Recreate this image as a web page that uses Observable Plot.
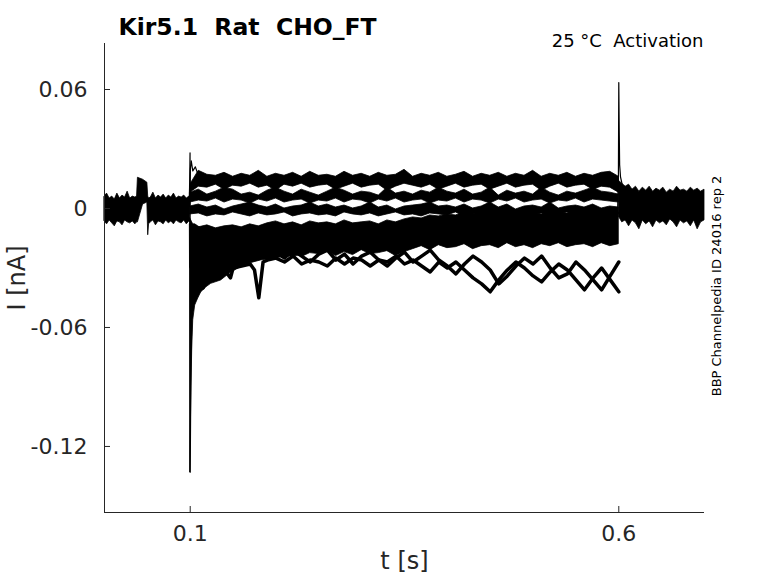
<!DOCTYPE html>
<html><head><meta charset="utf-8">
<script src="https://cdn.jsdelivr.net/npm/d3@7"></script>
<script src="https://cdn.jsdelivr.net/npm/@observablehq/plot@0.6"></script>
<style>
body{margin:0;background:#fff;}
svg text{white-space:pre;}
</style></head><body><div id="chart"></div>
<script>
const title = "Kir5.1  Rat  CHO_FT";
const subtitle = "25 °C  Activation";
const sideNote = "BBP Channelpedia ID 24016 rep 2";
const xLabel = "t [s]";
const yLabel = "I [nA]";
const xDomain = [0, 0.7];
const yDomain = [-0.1533, 0.0832];
const xTicks = [0.1, 0.6];
const xTickLabels = ["0.1", "0.6"];
const yTicks = [0.06, 0, -0.06, -0.12];
const yTickLabels = ["0.06", "0", "-0.06", "-0.12"];

// holding period before the step (noise envelope)
const tPre = [0,0.003,0.006,0.009,0.012,0.015,0.018,0.021,0.024,0.027,0.030,0.033,0.036,0.038,0.039,0.045,0.050,0.051,0.052,0.054,0.057,0.060,0.063,0.066,0.069,0.072,0.075,0.078,0.081,0.084,0.087,0.090,0.093,0.096,0.099,0.100];
const preHi = [0.006,0.0075,0.005,0.006,0.0045,0.0075,0.005,0.0065,0.0055,0.0085,0.005,0.006,0.0055,0.006,0.0155,0.0145,0.013,0.006,0.005,0.0055,0.008,0.005,0.0065,0.0055,0.007,0.005,0.0065,0.0055,0.0075,0.005,0.006,0.0055,0.0065,0.005,0.006,0.006];
const preLo = [-0.0065,-0.008,-0.006,-0.0075,-0.009,-0.0065,-0.007,-0.0085,-0.006,-0.007,-0.0075,-0.0065,-0.008,-0.007,-0.007,0.002,0.003,-0.0135,-0.008,-0.007,-0.006,-0.0085,-0.0065,-0.007,-0.008,-0.006,-0.0075,-0.0065,-0.008,-0.006,-0.007,-0.0075,-0.006,-0.008,-0.0065,-0.007];

// step period: noise envelopes of the trace groups
const tTest = [0.10,0.11,0.12,0.13,0.14,0.15,0.16,0.17,0.18,0.19,0.20,0.21,0.22,0.23,0.24,0.25,0.26,0.27,0.28,0.29,0.30,0.31,0.32,0.33,0.34,0.35,0.36,0.37,0.38,0.39,0.40,0.41,0.42,0.43,0.44,0.45,0.46,0.47,0.48,0.49,0.50,0.51,0.52,0.53,0.54,0.55,0.56,0.57,0.58,0.59,0.60];
const aHi = [0.012,0.019,0.017,0.0165,0.018,0.016,0.0175,0.0165,0.019,0.016,0.0175,0.0165,0.018,0.016,0.0185,0.0165,0.017,0.016,0.0185,0.0165,0.0175,0.016,0.018,0.0165,0.017,0.0195,0.016,0.0175,0.0165,0.018,0.016,0.017,0.0185,0.016,0.0175,0.0165,0.018,0.016,0.0175,0.0165,0.019,0.016,0.0175,0.0165,0.018,0.016,0.0175,0.0165,0.018,0.0185,0.016];
const aLo = [0.008,0.011,0.0105,0.012,0.0095,0.0115,0.011,0.0125,0.0105,0.0115,0.009,0.012,0.011,0.0125,0.0105,0.0115,0.012,0.0095,0.011,0.0125,0.0105,0.0115,0.012,0.009,0.011,0.0125,0.0115,0.0105,0.012,0.0095,0.011,0.0125,0.0105,0.0115,0.012,0.0095,0.011,0.0125,0.0105,0.0115,0.012,0.009,0.011,0.0125,0.0105,0.0115,0.012,0.0095,0.011,0.0105,0.008];
const bHi = [0.008,0.0095,0.007,0.0085,0.0105,0.0095,0.007,0.008,0.0065,0.009,0.0105,0.0085,0.007,0.0095,0.008,0.0065,0.0085,0.0105,0.009,0.007,0.0085,0.008,0.0065,0.0105,0.0075,0.0085,0.007,0.009,0.008,0.0105,0.0085,0.0075,0.0095,0.007,0.008,0.0105,0.0065,0.009,0.0075,0.0085,0.007,0.0105,0.008,0.0065,0.0085,0.0075,0.009,0.0105,0.0085,0.008,0.007];
const bLo = [0.003,0.004,0.0035,0.005,0.003,0.0045,0.004,0.0025,0.0045,0.0035,0.005,0.003,0.004,0.0045,0.0025,0.004,0.0035,0.005,0.003,0.0045,0.004,0.0025,0.0045,0.0035,0.005,0.003,0.004,0.0045,0.0025,0.004,0.0035,0.005,0.003,0.0045,0.004,0.0025,0.0045,0.0035,0.005,0.003,0.004,0.0045,0.0025,0.004,0.0035,0.005,0.003,0.0045,0.004,0.0035,0.003];
const cHi = [0.001,0.002,0.0005,0.0015,-0.0005,0.001,0.002,0.003,0.0015,0.0005,0.002,0,0.001,0.0015,0.003,0.001,0.002,0.0005,0.0015,0,0.001,0.003,0.0005,0.0015,-0.0005,0.001,0.0015,0.002,0.003,0.001,0.0015,0.0005,0.002,0,0.001,0.003,0.0005,0.002,-0.0005,0.001,0.0015,0.0005,0.003,0,0.001,0.0015,0.0005,0.002,0,0.001,0.0005];
const cLo = [-0.003,-0.0025,-0.004,-0.003,-0.0035,-0.002,-0.003,-0.004,-0.0025,-0.0035,-0.003,-0.002,-0.004,-0.003,-0.0025,-0.0035,-0.003,-0.004,-0.002,-0.003,-0.0035,-0.0025,-0.004,-0.003,-0.002,-0.0035,-0.003,-0.004,-0.0025,-0.003,-0.0035,-0.002,-0.004,-0.003,-0.0025,-0.0035,-0.003,-0.004,-0.002,-0.003,-0.0035,-0.0025,-0.004,-0.003,-0.002,-0.0035,-0.003,-0.004,-0.0025,-0.003,-0.003];
const dHi = [-0.008,-0.0095,-0.0085,-0.01,-0.009,-0.0085,-0.0095,-0.008,-0.009,-0.0075,-0.0065,-0.008,-0.007,-0.0085,-0.0065,-0.0075,-0.007,-0.008,-0.006,-0.0075,-0.007,-0.0065,-0.008,-0.006,-0.007,-0.0055,-0.0045,-0.005,-0.0035,-0.004,-0.003,-0.0035,-0.002,-0.003,-0.0015,-0.0025,-0.002,-0.003,-0.0015,-0.0025,-0.002,-0.003,-0.0015,-0.002,-0.0025,-0.0015,-0.003,-0.002,-0.0025,-0.0015,-0.002];
const dLo = [-0.030,-0.037,-0.033,-0.030,-0.028,-0.0265,-0.025,-0.0245,-0.0235,-0.024,-0.0225,-0.0235,-0.022,-0.0245,-0.0225,-0.023,-0.0215,-0.024,-0.022,-0.0235,-0.021,-0.023,-0.0225,-0.0215,-0.024,-0.022,-0.0205,-0.019,-0.021,-0.0185,-0.02,-0.0195,-0.018,-0.0205,-0.019,-0.0185,-0.02,-0.0175,-0.0195,-0.0185,-0.02,-0.018,-0.019,-0.0175,-0.0195,-0.0185,-0.018,-0.0195,-0.0175,-0.019,-0.018];

// fast decay after the capacitive transient at 0.1 s
const tDecay = [0.1,0.1012,0.1023,0.1035,0.1058,0.1093,0.1128,0.1186,0.1244,0.136,0.1477,0.165,0.1826,0.2058,0.229];
const decayLo = [-0.133,-0.0968,-0.0716,-0.0564,-0.0489,-0.0454,-0.0423,-0.0398,-0.038,-0.0363,-0.0323,-0.0282,-0.0262,-0.0247,-0.0237];
const decayHi = [-0.005,-0.006,-0.007,-0.008,-0.008,-0.009,-0.01,-0.01,-0.012,-0.014,-0.016,-0.018,-0.019,-0.02,-0.02];

// individual lower traces
const tLow = [0.20,0.21,0.22,0.23,0.24,0.25,0.26,0.27,0.28,0.29,0.30,0.31,0.32,0.33,0.34,0.35,0.36,0.37,0.38,0.39,0.40,0.41,0.42,0.43,0.44,0.45,0.46,0.47,0.48,0.49,0.50,0.51,0.52,0.53,0.54,0.55,0.56,0.57,0.58,0.59,0.60];
const low1 = [-0.025,-0.027,-0.024,-0.028,-0.026,-0.027,-0.029,-0.025,-0.028,-0.025,-0.026,-0.029,-0.026,-0.027,-0.024,-0.028,-0.026,-0.029,-0.032,-0.027,-0.030,-0.027,-0.031,-0.035,-0.038,-0.042,-0.036,-0.031,-0.027,-0.030,-0.034,-0.037,-0.032,-0.028,-0.031,-0.036,-0.041,-0.035,-0.030,-0.036,-0.042];
const low2 = [-0.022,-0.025,-0.021,-0.024,-0.027,-0.023,-0.021,-0.026,-0.023,-0.028,-0.024,-0.022,-0.026,-0.029,-0.025,-0.022,-0.027,-0.024,-0.021,-0.026,-0.029,-0.033,-0.028,-0.024,-0.027,-0.031,-0.038,-0.034,-0.029,-0.025,-0.028,-0.024,-0.030,-0.035,-0.033,-0.027,-0.031,-0.036,-0.041,-0.034,-0.027];
const tEarly = [0.115,0.12,0.13,0.14,0.147,0.15,0.16,0.17,0.175,0.18,0.185,0.19,0.2];
const early1 = [-0.04,-0.036,-0.033,-0.031,-0.035,-0.03,-0.029,-0.028,-0.031,-0.045,-0.027,-0.026,-0.025];

// step-on and step-off transients
const tOn = [0.099,0.0998,0.1,0.1008,0.102,0.104,0.107];
const on1 = [0.001,0.028,-0.133,-0.08,-0.05,-0.042,-0.038];
const tOn2 = [0.0995,0.1002,0.1012,0.103,0.106,0.11];
const on2 = [0.002,0.02,0.024,0.019,0.021,0.016];
const tOff = [0.598,0.5995,0.6,0.6005,0.601,0.602,0.604,0.607];
const off1 = [-0.01,0.01,0.0635,0.04,0.022,0.016,0.012,0.009];

// after the step (noise envelope)
const tPost = [0.600,0.604,0.608,0.612,0.616,0.620,0.624,0.628,0.632,0.636,0.640,0.644,0.648,0.652,0.656,0.660,0.664,0.668,0.672,0.676,0.680,0.684,0.688,0.692,0.696,0.700];
const postHi = [0.014,0.0125,0.011,0.012,0.0095,0.011,0.0085,0.0105,0.009,0.011,0.0085,0.01,0.009,0.0105,0.008,0.0095,0.0085,0.011,0.009,0.0095,0.0085,0.0105,0.009,0.01,0.0085,0.0095];
const postLo = [-0.004,-0.007,-0.006,-0.009,-0.006,-0.0075,-0.0105,-0.006,-0.008,-0.0065,-0.0095,-0.006,-0.0075,-0.0065,-0.0085,-0.0055,-0.007,-0.0095,-0.006,-0.0075,-0.0065,-0.009,-0.006,-0.0105,-0.007,-0.006];

const band = (ts, lo, hi) => ts.map((t, i) => ({t, lo: lo[i], hi: hi[i]}));
const series = (ts, v) => ts.map((t, i) => ({t, v: v[i]}));

const bands = [
  band(tPre, preLo, preHi),
  band(tTest, aLo, aHi),
  band(tTest, bLo, bHi),
  band(tTest, cLo, cHi),
  band(tTest, dLo, dHi),
  band(tDecay, decayLo, decayHi),
  band(tPost, postLo, postHi)
];
const thickLines = [series(tLow, low1), series(tLow, low2), series(tEarly, early1)];
const thinLines = [series(tOn, on1), series(tOn2, on2), series(tOff, off1)];

const W = 778, H = 583, mL = 104, mR = 74, mT = 43, mB = 71;
const frameW = W - mL - mR, frameH = H - mT - mB;
const axisColor = "#262626";

const chart = Plot.plot({
  width: W, height: H,
  marginLeft: mL, marginRight: mR, marginTop: mT, marginBottom: mB,
  style: {fontFamily: "DejaVu Sans", color: axisColor, background: "white", overflow: "visible"},
  x: {domain: xDomain},
  y: {domain: yDomain},
  marks: [
    ...bands.map(b => Plot.areaY(b, {x: "t", y1: "lo", y2: "hi", fill: "black", stroke: "black", strokeWidth: 0.8})),
    ...thickLines.map(l => Plot.lineY(l, {x: "t", y: "v", stroke: "black", strokeWidth: 3.5})),
    ...thinLines.map(l => Plot.lineY(l, {x: "t", y: "v", stroke: "black", strokeWidth: 1.2})),
    Plot.ruleX([xDomain[0]], {stroke: axisColor, strokeWidth: 1}),
    Plot.ruleY([yDomain[0]], {stroke: axisColor, strokeWidth: 1}),
    Plot.tickX(xTicks, {x: d => d, stroke: axisColor, insetTop: frameH - 6}),
    Plot.tickY(yTicks, {y: d => d, stroke: axisColor, insetRight: frameW - 6}),
    Plot.axisX({ticks: xTicks, tickSize: 0, tickPadding: 13, fontSize: 22, tickFormat: d => xTickLabels[xTicks.indexOf(d)], label: null}),
    Plot.axisY({ticks: yTicks, tickSize: 0, tickPadding: 17, fontSize: 22, tickFormat: d => yTickLabels[yTicks.indexOf(d)], label: null}),
    Plot.text([title], {text: d => d, frameAnchor: "top-left", textAnchor: "start", dx: 14, dy: -25, fontSize: 23.5, fontWeight: "bold", fill: "black"}),
    Plot.text([subtitle], {text: d => d, frameAnchor: "top-right", textAnchor: "end", dx: -1, dy: -9, fontSize: 18, fill: "black"}),
    Plot.text([sideNote], {text: d => d, frameAnchor: "right", textAnchor: "middle", rotate: -90, dx: 12, dy: 8, fontSize: 13, fill: "black"}),
    Plot.text([yLabel], {text: d => d, frameAnchor: "left", textAnchor: "middle", rotate: -90, dx: -87, fontSize: 24, fill: axisColor}),
    Plot.text([xLabel], {text: d => d, frameAnchor: "bottom", textAnchor: "middle", dy: 56, fontSize: 24, fill: axisColor})
  ]
});
document.getElementById("chart").append(chart);
</script></body></html>
